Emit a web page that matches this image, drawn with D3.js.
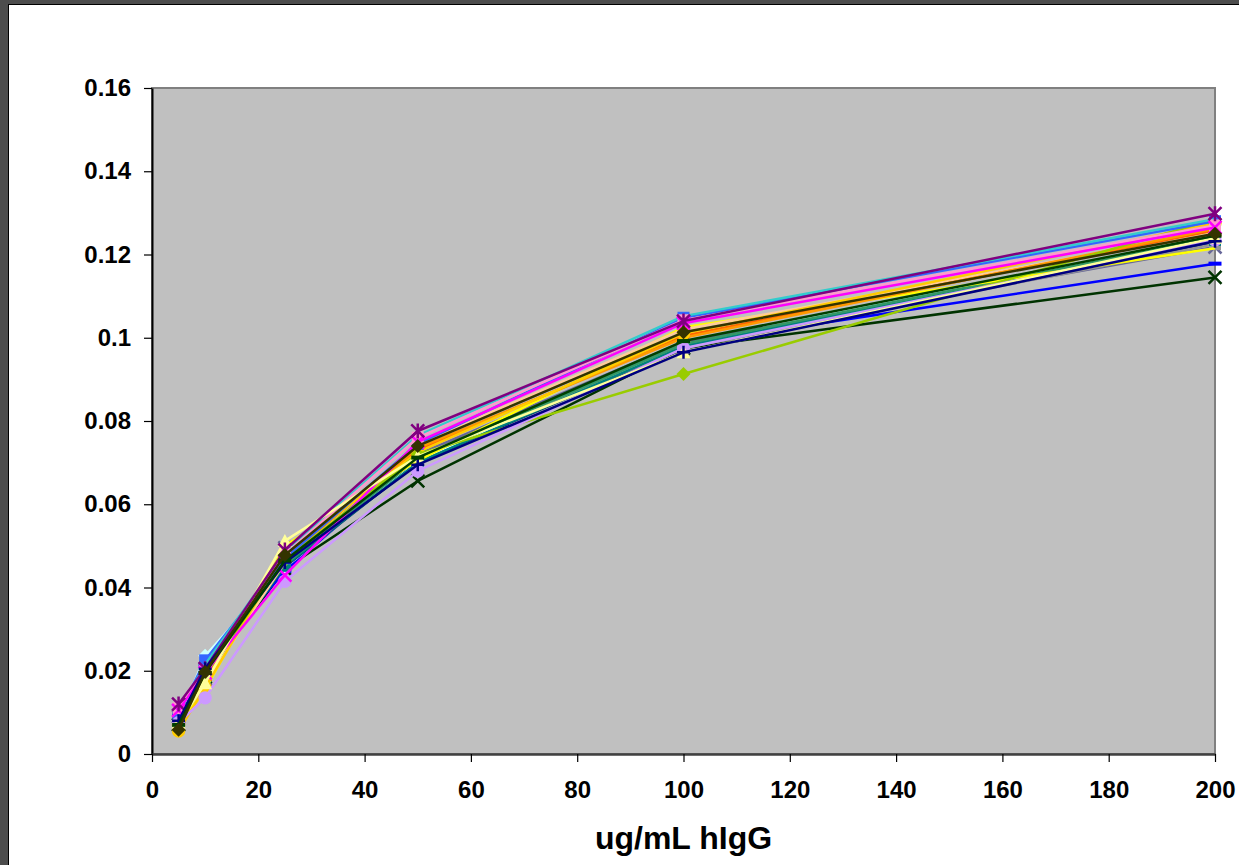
<!DOCTYPE html>
<html>
<head>
<meta charset="utf-8">
<script src="https://cdn.jsdelivr.net/npm/d3@7"></script>
<style>
  html, body { margin: 0; padding: 0; background: #ffffff; }
  svg { display: block; }
</style>
</head>
<body>
<svg id="chart" width="1239" height="865"></svg>
<script>
// Concentrations of human IgG (ug/mL) on the x axis
const concentrations = [5, 10, 25, 50, 100, 200];

// One row per standard curve replicate, drawn in this order
const seriesNames = [
  "S1", "S2", "S3", "S4", "S5", "S6", "S7", "S8", "S9", "S10", "S11", "S12",
  "S13", "S14", "S15", "S16", "S17", "S18", "S19", "S20", "S21", "S22", "S23", "S24"
];
const seriesColors = [
  "#003300", "#0000FF", "#CCFFFF", "#003366", "#666699", "#969696", "#008080", "#339966",
  "#FFFF00", "#FFCC99", "#FF6600", "#FF9900", "#FFCC00", "#99CC00", "#3366FF", "#33CCCC",
  "#FF99CC", "#CC99FF", "#FF00FF", "#FFFF99", "#800080", "#000080", "#004000", "#333300"
];
const seriesMarkers = [
  "x", "dash", "diamond", "none", "x", "square", "square", "none",
  "none", "none", "triangle", "none", "circle", "diamond", "square", "none",
  "square", "circle", "x", "triangle", "star", "plus", "dash", "diamond"
];
const seriesValues = [
  [0.0070, 0.0185, 0.0445, 0.0656, 0.0975, 0.1145],
  [0.0095, 0.0215, 0.0440, 0.0715, 0.0985, 0.1178],
  [0.0080, 0.0236, 0.0448, 0.0705, 0.0985, 0.1245],
  [0.0085, 0.0200, 0.0450, 0.0700, 0.0975, 0.1230],
  [0.0090, 0.0180, 0.0495, 0.0720, 0.0990, 0.1218],
  [0.0078, 0.0195, 0.0458, 0.0715, 0.0975, 0.1225],
  [0.0090, 0.0185, 0.0452, 0.0700, 0.0980, 0.1235],
  [0.0085, 0.0190, 0.0455, 0.0710, 0.0985, 0.1240],
  [0.0070, 0.0155, 0.0500, 0.0705, 0.1025, 0.1215],
  [0.0090, 0.0170, 0.0460, 0.0745, 0.1020, 0.1255],
  [0.0085, 0.0190, 0.0475, 0.0730, 0.1005, 0.1258],
  [0.0080, 0.0185, 0.0470, 0.0735, 0.1000, 0.1262],
  [0.0055, 0.0160, 0.0480, 0.0725, 0.1010, 0.1275],
  [0.0068, 0.0190, 0.0465, 0.0720, 0.0913, 0.1285],
  [0.0095, 0.0225, 0.0470, 0.0745, 0.1048, 0.1280],
  [0.0100, 0.0215, 0.0485, 0.0765, 0.1052, 0.1285],
  [0.0110, 0.0200, 0.0480, 0.0760, 0.1042, 0.1270],
  [0.0075, 0.0135, 0.0415, 0.0680, 0.0975, 0.1235],
  [0.0105, 0.0195, 0.0430, 0.0750, 0.1035, 0.1265],
  [0.0075, 0.0170, 0.0512, 0.0715, 0.0965, 0.1240],
  [0.0120, 0.0205, 0.0490, 0.0776, 0.1040, 0.1298],
  [0.0080, 0.0205, 0.0460, 0.0695, 0.0965, 0.1232],
  [0.0070, 0.0195, 0.0465, 0.0712, 0.0992, 0.1245],
  [0.0058, 0.0197, 0.0478, 0.0740, 0.1013, 0.1250]
];

const xTicks = [0, 20, 40, 60, 80, 100, 120, 140, 160, 180, 200];
const yTicks = [0, 0.02, 0.04, 0.06, 0.08, 0.1, 0.12, 0.14, 0.16];
const yTickLabels = ["0", "0.02", "0.04", "0.06", "0.08", "0.1", "0.12", "0.14", "0.16"];
const xTitle = "ug/mL hIgG";

const svg = d3.select("#chart");
const W = 1239, H = 865;
const plot = { left: 152, right: 1215, top: 88, bottom: 754 };
const font = "'Liberation Sans', Arial, sans-serif";

// Window frame around the chart sheet
svg.append("rect").attr("x", 0).attr("y", 0).attr("width", W).attr("height", H).attr("fill", "#4d4d4d");
svg.append("rect").attr("x", 8).attr("y", 4).attr("width", W - 8).attr("height", H - 4).attr("fill", "#000000");
svg.append("rect").attr("x", 9).attr("y", 5).attr("width", W - 9).attr("height", H - 5).attr("fill", "#ffffff");

const x = d3.scaleLinear().domain([0, 200]).range([plot.left, plot.right]);
const y = d3.scaleLinear().domain([0, 0.16]).range([plot.bottom, plot.top]);

// Plot area
svg.append("rect")
  .attr("x", plot.left).attr("y", plot.top)
  .attr("width", plot.right - plot.left).attr("height", plot.bottom - plot.top)
  .attr("fill", "#c0c0c0").attr("stroke", "#808080").attr("stroke-width", 2);

// Axes
const yAxis = d3.axisLeft(y).tickValues(yTicks)
  .tickFormat((d, i) => yTickLabels[i]).tickSizeInner(8).tickSizeOuter(0).tickPadding(13);
const gy = svg.append("g").attr("transform", `translate(${plot.left},0)`).call(yAxis);
gy.select(".domain").attr("stroke", "#000").attr("stroke-width", 2);
gy.selectAll(".tick line").attr("stroke", "#000").attr("stroke-width", 1.2);
gy.selectAll(".tick text").attr("font-family", font).attr("font-weight", "bold")
  .attr("font-size", 24).attr("fill", "#000");

const xAxis = d3.axisBottom(x).tickValues(xTicks).tickFormat(d3.format("d"))
  .tickSizeInner(8).tickSizeOuter(0).tickPadding(19);
const gx = svg.append("g").attr("transform", `translate(0,${plot.bottom})`).call(xAxis);
gx.select(".domain").attr("stroke", "#404040").attr("stroke-width", 2.5);
gx.selectAll(".tick line").attr("stroke", "#000").attr("stroke-width", 1.2);
gx.selectAll(".tick text").attr("font-family", font).attr("font-weight", "bold")
  .attr("font-size", 24).attr("fill", "#000");

svg.append("text")
  .attr("x", (plot.left + plot.right) / 2).attr("y", 849)
  .attr("text-anchor", "middle")
  .attr("font-family", font).attr("font-weight", "bold").attr("font-size", 32)
  .attr("fill", "#000").text(xTitle);

// Curves
const line = d3.line().x((d, i) => x(concentrations[i])).y(d => y(d));
const series = seriesValues.map((vals, k) => ({
  name: seriesNames[k], color: seriesColors[k], marker: seriesMarkers[k], vals
}));

const markerPath = (type) => {
  const s = 6;
  switch (type) {
    case "diamond": return `M0,${-s - 1}L${s + 1},0L0,${s + 1}L${-s - 1},0Z`;
    case "square": return `M${-s},${-s}H${s}V${s}H${-s}Z`;
    case "triangle": return `M0,${-s - 1}L${s + 1},${s}L${-s - 1},${s}Z`;
    case "circle": return d3.symbol(d3.symbolCircle, 140)();
    default: return null;
  }
};
const strokeMarker = (type) => {
  const s = 6.5;
  switch (type) {
    case "x": return `M${-s},${-s}L${s},${s}M${-s},${s}L${s},${-s}`;
    case "plus": return `M${-s},0L${s},0M0,${-s}L0,${s}`;
    case "dash": return `M${-s},0L${s},0`;
    case "star": return `M${-s},${-s}L${s},${s}M${-s},${s}L${s},${-s}M0,${-s - 1}L0,${s + 1}`;
    default: return null;
  }
};

const g = svg.append("g");
series.forEach(sr => {
  const sg = g.append("g").attr("class", "series");
  sg.append("path").attr("d", line(sr.vals)).attr("fill", "none")
    .attr("stroke", sr.color).attr("stroke-width", 2.5).attr("stroke-linejoin", "round");
  if (sr.marker === "none") return;
  sr.vals.forEach((v, i) => {
    const t = `translate(${x(concentrations[i])},${y(v)})`;
    const fp = markerPath(sr.marker);
    if (fp) {
      sg.append("path").attr("d", fp).attr("transform", t).attr("fill", sr.color);
    } else {
      sg.append("path").attr("d", strokeMarker(sr.marker)).attr("transform", t)
        .attr("fill", "none").attr("stroke", sr.color)
        .attr("stroke-width", sr.marker === "dash" ? 4 : 2.5);
    }
  });
});
</script>
</body>
</html>
